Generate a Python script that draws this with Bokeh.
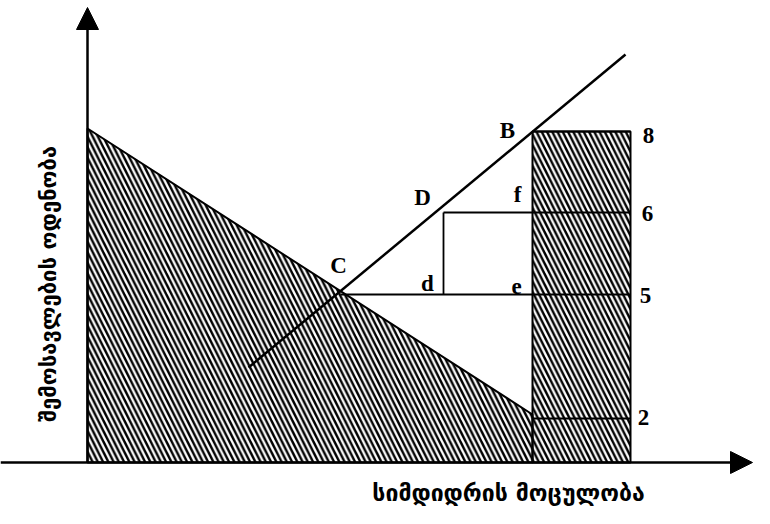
import math
from bokeh.plotting import figure
from bokeh.models import ColumnDataSource, Arrow, NormalHead, Label
from bokeh.core.properties import value
from bokeh.embed import file_html
from bokeh.resources import INLINE

# ---- data (chart units, origin where the axes cross) ----
income_x = [0, 445]            # descending income line
income_y = [334, 48]
rising_x = [161, 538]          # rising line through C, D, B
rising_y = [95, 408]
rect_left = 445
rect_right = 543
levels = ["8", "6", "5", "2"]
level_y = [331, 250, 168, 44]
level_start_x = [445, 356, 253, 445]
d_x = 356
point_labels = ["B", "D", "C", "d", "e", "f"]
point_x = [420, 335, 251, 340, 429, 430]
point_y = [332, 265, 197, 179, 176, 268]
level_label_x = [561, 560, 558, 556]
level_label_y = [327, 249, 167, 45]
x_title = "სიმდიდრის   მოცულობა"
y_title = "შემოსავლების    ოდენობა"

p = figure(width=754, height=508, x_range=(-87, 667), y_range=(-46, 462),
           output_backend="svg", toolbar_location=None, min_border=0)
p.axis.visible = False
p.grid.visible = False
p.outline_line_color = None
p.background_fill_color = "white"

hatch = dict(fill_alpha=0, hatch_pattern="\\", hatch_color="black",
             hatch_weight=2.4, hatch_scale=10.5)

# hatched region under the income line
p.patch(income_x + [income_x[-1], 0], income_y + [0, 0],
        line_color="black", line_width=2, **hatch)

# hatched rectangle
p.quad(left=[rect_left], right=[rect_right], bottom=[0], top=[level_y[0]],
       line_color="black", line_width=2, **hatch)

# level lines
p.segment(x0=level_start_x, y0=level_y, x1=[rect_right] * 4, y1=level_y,
          line_color="black", line_width=1.8)

# vertical D-d
p.segment(x0=[d_x], y0=[level_y[2]], x1=[d_x], y1=[level_y[1]],
          line_color="black", line_width=1.8)

# rising line
p.line(rising_x, rising_y, line_color="black", line_width=2.5)

# axes with arrows
p.add_layout(Arrow(end=NormalHead(size=22, fill_color="black", line_color="black"),
                   x_start=0, y_start=0, x_end=0, y_end=455,
                   line_width=2.5, line_color="black"))
p.add_layout(Arrow(end=NormalHead(size=22, fill_color="black", line_color="black"),
                   x_start=-87, y_start=0, x_end=665, y_end=0,
                   line_width=2.5, line_color="black"))

# labels
src = ColumnDataSource(dict(x=point_x, y=point_y, t=point_labels))
p.text("x", "y", text="t", source=src, text_font=value("Liberation Serif"),
       text_font_style="bold", text_font_size="23px",
       text_align="center", text_baseline="middle", text_color="black")
src2 = ColumnDataSource(dict(x=level_label_x, y=level_label_y, t=levels))
p.text("x", "y", text="t", source=src2, text_font=value("Liberation Serif"),
       text_font_style="bold", text_font_size="23px",
       text_align="center", text_baseline="middle", text_color="black")

p.add_layout(Label(x=429, y=-30, text=x_title, text_font="DejaVu Sans",
                   text_font_style="bold", text_font_size="23px",
                   text_align="center", text_baseline="alphabetic", text_color="black"))
p.add_layout(Label(x=-39, y=190, text=y_title, text_font="DejaVu Sans",
                   text_font_style="bold", text_font_size="22px", angle=math.pi / 2,
                   text_align="center", text_baseline="middle", text_color="black"))

open("out.html", "w").write(file_html(p, INLINE))
